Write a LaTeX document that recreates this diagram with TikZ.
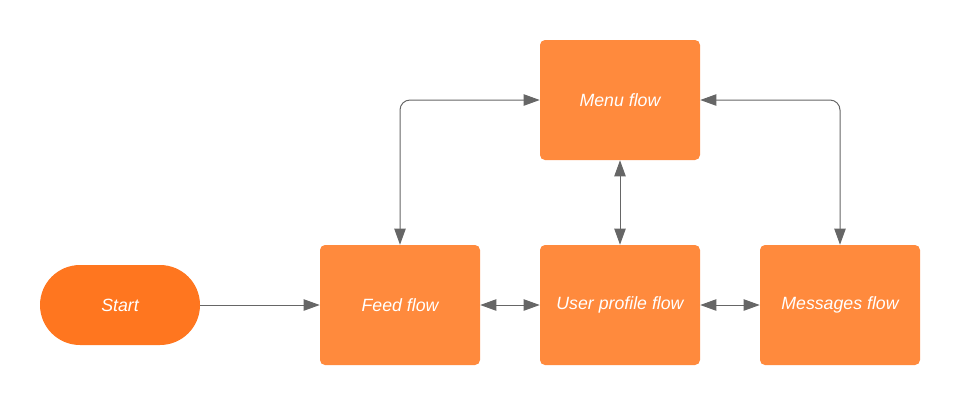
\documentclass[tikz,border=0pt]{standalone}
\usepackage{fontspec}
\setmainfont{Liberation Sans}
\usetikzlibrary{arrows.meta,shapes.misc}
\definecolor{startc}{HTML}{FF761F}
\definecolor{boxc}{HTML}{FF8A3D}
\definecolor{linec}{HTML}{666666}
\tikzset{
  flowbox/.style={fill=boxc, draw=none, rounded corners=3.75pt, minimum width=120pt, minimum height=90pt, inner sep=0pt, text=white, font=\itshape\fontsize{13.3pt}{15pt}\selectfont},
  startbox/.style={fill=startc, draw=none, rounded rectangle, minimum width=120pt, minimum height=60pt, inner sep=0pt, text=white, font=\itshape\fontsize{13.3pt}{15pt}\selectfont},
  conn/.style={draw=linec, line width=0.75pt, -{Triangle[length=12pt,width=8.5pt]}},
  biconn/.style={draw=linec, line width=0.75pt, {Triangle[length=12pt,width=8.5pt]}-{Triangle[length=12pt,width=8.5pt]}},
}
\begin{document}
\begin{tikzpicture}[x=0.75pt,y=-0.75pt]
\useasboundingbox (0,0) rectangle (960,405);
\node[startbox] (start) at (120,305) {Start};
\node[flowbox] (feed) at (400,305) {Feed flow};
\node[flowbox] (user) at (620,305) {User profile flow};
\node[flowbox] (msg) at (840,305) {Messages flow};
\node[flowbox] (menu) at (620,100) {Menu flow};
\draw[conn] (start.east) -- (feed.west);
\draw[biconn] (feed.east) -- (user.west);
\draw[biconn] (user.east) -- (msg.west);
\draw[biconn] (menu.south) -- (user.north);
\draw[biconn, rounded corners=7.5pt] (feed.north) |- (menu.west);
\draw[biconn, rounded corners=7.5pt] (msg.north) |- (menu.east);
\end{tikzpicture}
\end{document}
